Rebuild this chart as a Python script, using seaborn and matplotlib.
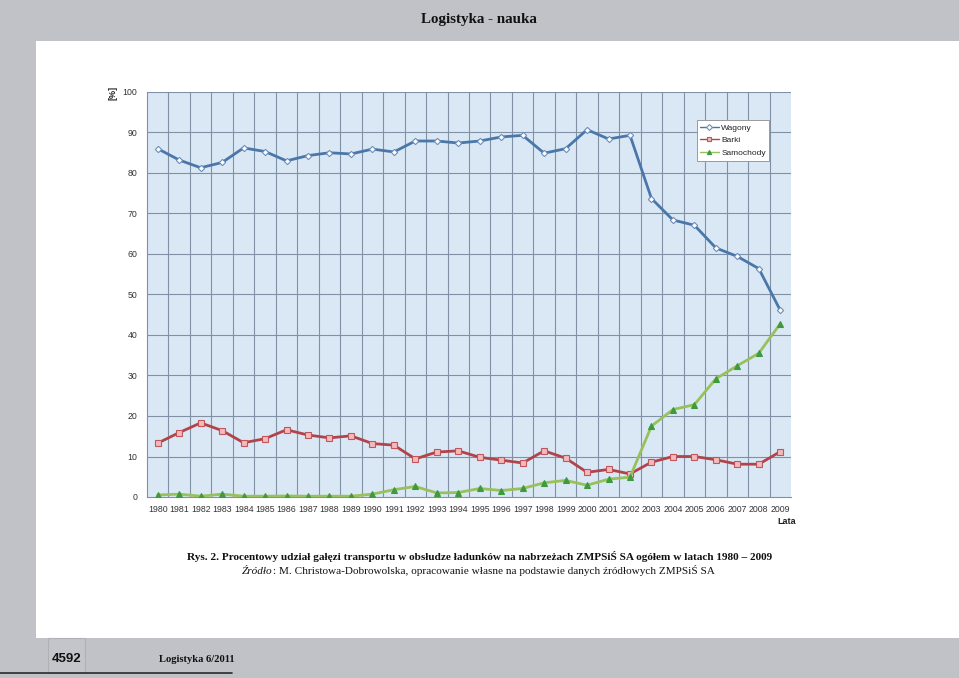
import matplotlib
matplotlib.use("Agg")
import matplotlib.pyplot as plt
from matplotlib.patches import Rectangle
from matplotlib.lines import Line2D
import numpy as np
import pandas as pd
import seaborn as sns

years = list(range(1980, 2010))
wagony = [86.0, 83.2, 81.3, 82.6, 86.2, 85.3, 83.0, 84.3, 85.0, 84.7,
          85.9, 85.2, 87.9, 87.9, 87.4, 87.9, 88.9, 89.3, 84.9, 86.0,
          90.7, 88.4, 89.3, 73.7, 68.4, 67.1, 61.5, 59.4, 56.4, 46.1]
barki = [13.3, 15.9, 18.3, 16.4, 13.4, 14.4, 16.6, 15.3, 14.6, 15.1,
         13.2, 12.8, 9.4, 11.1, 11.4, 9.8, 9.1, 8.4, 11.4, 9.6,
         6.1, 6.8, 5.7, 8.6, 10.0, 10.0, 9.2, 8.1, 8.1, 11.2]
samochody = [0.5, 0.7, 0.2, 0.7, 0.2, 0.2, 0.25, 0.2, 0.2, 0.2,
             0.7, 1.8, 2.6, 1.0, 1.1, 2.1, 1.6, 2.1, 3.5, 4.1,
             2.9, 4.4, 4.9, 17.5, 21.6, 22.8, 29.2, 32.4, 35.5, 42.8]
series_names = ["Wagony", "Barki", "Samochody"]
y_ticks = [0, 10, 20, 30, 40, 50, 60, 70, 80, 90, 100]

header = "Logistyka - nauka"
caption1 = "Rys. 2. Procentowy udział gałęzi transportu w obsłudze ładunków na nabrzeżach ZMPSiŚ SA ogółem w latach 1980 – 2009"
caption2_it = "Źródło"
caption2 = ": M. Christowa-Dobrowolska, opracowanie własne na podstawie danych źródłowych ZMPSiŚ SA"
footer_num = "4592"
footer_txt = "Logistyka 6/2011"

sns.set_theme(style="white")
plt.rcParams['font.family'] = ['Liberation Sans', 'DejaVu Sans']
SERIF = ["Liberation Serif", "DejaVu Serif"]

W, H = 959, 678
fig = plt.figure(figsize=(W / 100, H / 100), dpi=100)
fig.patch.set_facecolor("#c1c2c7")

def frect(x0, y0, x1, y1, **kw):
    # pixel coords from top-left
    fig.patches.append(Rectangle((x0 / W, 1 - y1 / H), (x1 - x0) / W, (y1 - y0) / H,
                                 transform=fig.transFigure, figure=fig, **kw))

frect(36, 41, 959, 638, facecolor="white", edgecolor="none", zorder=-5)
frect(48, 638, 85, 673, facecolor="#c4c5ca", edgecolor="#b0b1b6", linewidth=0.8, zorder=-4)
fig.lines.append(Line2D([0, 232 / W], [1 - 673 / H, 1 - 673 / H], transform=fig.transFigure,
                        color="#2a2a2a", linewidth=1.2))

fig.text(479 / W, 1 - 20 / H, header, ha="center", va="center", fontsize=10.8,
         fontweight="bold", family=SERIF, color="#111111")
fig.text(67 / W, 1 - 659 / H, footer_num, ha="center", va="center", fontsize=9.5,
         fontweight="bold", family=["Liberation Sans", "DejaVu Sans"], color="#111111")
fig.text(197 / W, 1 - 659 / H, footer_txt, ha="center", va="center", fontsize=7.6,
         fontweight="bold", family=SERIF, color="#111111")

ax = fig.add_axes([147 / W, 1 - 497 / H, (791 - 147) / W, (497 - 92) / H])
ax.set_facecolor("#dae8f6")

df = pd.DataFrame({
    "x": list(range(len(years))) * 3,
    "val": wagony + barki + samochody,
    "seria": [series_names[0]] * len(years) + [series_names[1]] * len(years) + [series_names[2]] * len(years),
})

styles = {
    "Wagony": dict(color="#4a77aa", marker="D", mfc="white", mec="#6f8fb8", ms=3.2, lw=2.0),
    "Barki": dict(color="#b3434a", marker="s", mfc="#f3b9bb", mec="#c0555b", ms=4.5, lw=2.0),
    "Samochody": dict(color="#97c15a", marker="^", mfc="#3d9a3d", mec="#3d9a3d", ms=4.0, lw=2.0),
}
for name in series_names:
    st = styles[name]
    sub = df[df["seria"] == name]
    sns.lineplot(data=sub, x="x", y="val", ax=ax, color=st["color"], linewidth=st["lw"],
                 marker=st["marker"], markerfacecolor=st["mfc"], markeredgecolor=st["mec"],
                 markeredgewidth=0.8, markersize=st["ms"], label=name, zorder=3)

ax.set_xlim(-0.5, len(years) - 0.5)
ax.set_ylim(0, 100)
ax.set_yticks(y_ticks)
ax.set_yticklabels([str(t) for t in y_ticks])
ax.set_xticks(range(len(years)))
ax.set_xticklabels([str(y) for y in years])
ax.set_xticks(np.arange(-0.5, len(years), 1.0), minor=True)
ax.grid(False)
GRID = "#8090a5"
for t in y_ticks[1:]:
    ax.axhline(t, color=GRID, linewidth=0.8, zorder=1)
for b in np.arange(0.5, len(years) - 0.5, 1.0):
    ax.axvline(b, color=GRID, linewidth=0.8, zorder=1)

ax.tick_params(axis="x", which="major", length=0, labelsize=6.3, labelcolor="#333333", pad=6)
ax.tick_params(axis="x", which="minor", length=4, color=GRID, width=0.8, direction="out")
ax.tick_params(axis="y", which="major", length=4, color=GRID, width=0.8, direction="out",
               labelsize=6.3, labelcolor="#333333", pad=3)
for s in ["top", "right"]:
    ax.spines[s].set_visible(False)
ax.spines["left"].set_color(GRID)
ax.spines["bottom"].set_color(GRID)
ax.spines["left"].set_linewidth(0.8)
ax.spines["bottom"].set_linewidth(0.8)
ax.set_xlabel("")
ax.set_ylabel("")

leg = ax.legend(loc="upper left", bbox_to_anchor=(0.854, 0.93), fontsize=6.0, frameon=True,
                fancybox=False, framealpha=1, edgecolor="#9a9a9a", handlelength=2.2,
                handletextpad=0.3, borderpad=0.4, labelspacing=0.6, borderaxespad=0)
leg.get_frame().set_linewidth(0.7)
for t in leg.get_texts():
    t.set_color("#222222")
for ln in leg.get_lines():
    ln.set_linewidth(1.0)
    ln.set_markersize(3.0)

fig.text(113 / W, 1 - 93 / H, "[%]", rotation=90, ha="center", va="center", fontsize=6.5,
         fontweight="bold", color="#222222")
fig.text(787 / W, 1 - 522 / H, "Lata", ha="center", va="center", fontsize=6.5,
         fontweight="bold", color="#222222")

CAP = 8.1
fig.text(480 / W, 1 - 556 / H, caption1, ha="center", va="center", fontsize=CAP,
         fontweight="bold", family=SERIF, color="#111111")
t_it = fig.text(242 / W, 1 - 571 / H, caption2_it, ha="left", va="center", fontsize=CAP,
                style="italic", family=SERIF, color="#111111")
fig.canvas.draw()
bb = t_it.get_window_extent()
fig.text(bb.x1 / W, 1 - 571 / H, caption2, ha="left", va="center", fontsize=CAP,
         family=SERIF, color="#111111")

fig.savefig("out.png", dpi=100, facecolor=fig.get_facecolor())
